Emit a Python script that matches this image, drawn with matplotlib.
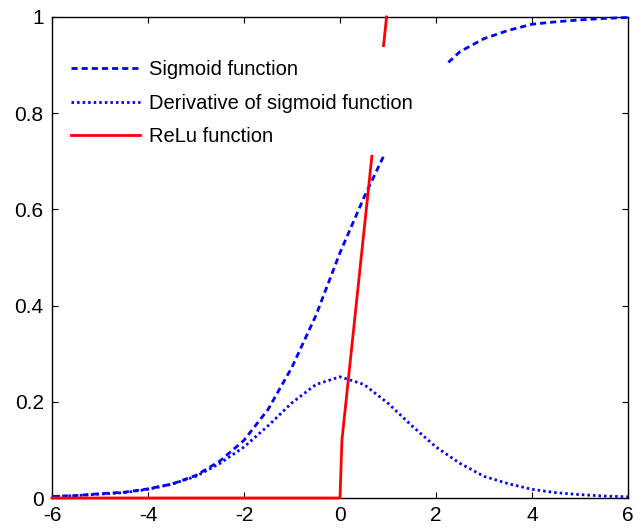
import matplotlib.pyplot as plt
import matplotlib.patches as patches

plt.rcParams['font.family'] = ['Liberation Sans', 'DejaVu Sans']
plt.rcParams['axes.unicode_minus'] = False

# values
x_vals = [-6, -5.5, -5, -4.5, -4, -3.5, -3, -2.5, -2, -1.5, -1, -0.5, 0,
          0.5, 1, 1.5, 2, 2.5, 3, 3.5, 4, 4.5, 5, 5.5, 6]
sigmoid_vals = [0.003, 0.005, 0.009, 0.012, 0.019, 0.029, 0.047, 0.077, 0.12,
                0.184, 0.272, 0.38, 0.51, 0.625, 0.73, 0.82, 0.882, 0.928,
                0.955, 0.972, 0.985, 0.99, 0.994, 0.997, 0.999]
deriv_vals = [0.003, 0.005, 0.008, 0.011, 0.018, 0.029, 0.045, 0.072, 0.106,
              0.15, 0.198, 0.236, 0.252, 0.236, 0.197, 0.15, 0.106, 0.072,
              0.045, 0.03, 0.018, 0.011, 0.007, 0.004, 0.0025]
relu_x = [-6, 0, 0.04, 0.97]
relu_y = [0, 0, 0.12, 1.0]

labels = ['Sigmoid function', 'Derivative of sigmoid function', 'ReLu function']

fig = plt.figure(figsize=(6.41, 5.28), dpi=100)
ax = fig.add_axes([52 / 641, 30 / 528, 576 / 641, 481 / 528])

ax.plot(x_vals, sigmoid_vals, color='#0000ff', lw=2, linestyle=(0, (2.2, 1.45)),
        label=labels[0], clip_on=False, zorder=3)
ax.plot(x_vals, deriv_vals, color='#0000ff', lw=2, linestyle=(0, (0.9, 1.1)),
        label=labels[1], clip_on=False, zorder=3)
ax.plot(relu_x, relu_y, color='#ff0000', lw=2, label=labels[2],
        clip_on=False, zorder=4)

ax.set_xlim(-6, 6)
ax.set_ylim(0, 1)
ax.set_xticks([-6, -4, -2, 0, 2, 4, 6])
ax.set_yticks([0, 0.2, 0.4, 0.6, 0.8, 1])
ax.set_yticklabels(['0', '0.2', '0.4', '0.6', '0.8', '1'])
ax.tick_params(direction='in', length=4.5, width=0.8, labelsize=15,
               top=True, right=True, pad=6)
for s in ax.spines.values():
    s.set_linewidth(1.0)

# white legend background like MATLAB (box wider than its contents)
bg = patches.Rectangle((0.014, 0.713), 0.672, 0.225, transform=ax.transAxes,
                       facecolor='white', edgecolor='none', zorder=4.5)
ax.add_patch(bg)

leg = ax.legend(loc='upper left', bbox_to_anchor=(8 / 576, 1 - 32 / 481),
                borderaxespad=0, fontsize=14.5, frameon=False,
                handlelength=3.4, handletextpad=0.45, labelspacing=0.72,
                borderpad=0.55)
leg.set_zorder(5)

fig.savefig('out.png', dpi=100)
